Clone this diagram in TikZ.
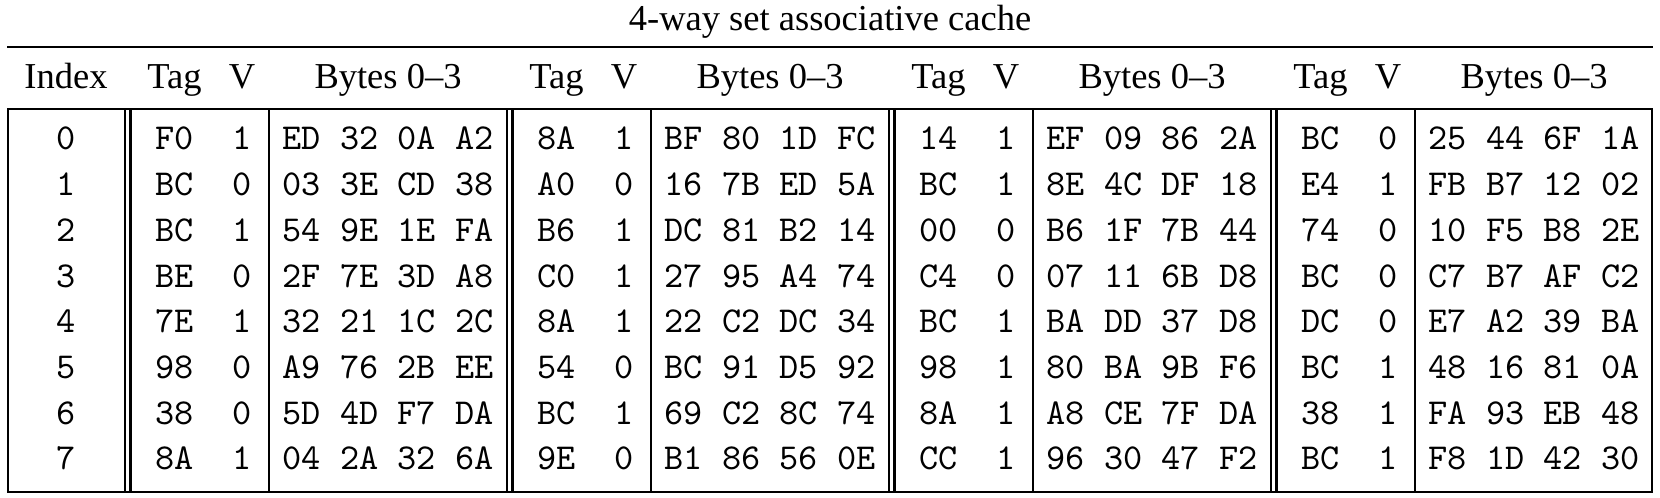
\documentclass[tikz,border=0pt]{standalone}
\usepackage{fontspec}
\setmainfont{Liberation Serif}
\usetikzlibrary{positioning}

\tikzset{
  head/.style={anchor=base, inner sep=0pt},
  cell/.style={anchor=base, inner sep=0pt, font=\ttfamily},
  rule/.style={line width=0.8pt},
}

\begin{document}
\begin{tikzpicture}[x=0.274pt, y=-0.274pt]
\useasboundingbox (0,0) rectangle (1660,498);

\node[head] (title) at (830,31) {4-way set associative cache};
\draw[line width=0.5pt] (7,47) -- (1653,47);

\node[head] (index_head) at (66,89) {Index};
\foreach \k/\b in {1/125,2/507,3/889,4/1271} {
  \node[head] (tag_head\k) at (\b+49.5,89) {Tag};
  \node[head] (v_head\k) at (\b+117,89) {V};
  \node[head] (bytes_head\k) at (\b+263,89) {Bytes 0--3};
}

\foreach \i/\ta/\va/\ba/\tb/\vb/\bb/\tc/\vc/\bc/\td/\vd/\bd in {
  0/F0/1/ED 32 0A A2/8A/1/BF 80 1D FC/14/1/EF 09 86 2A/BC/0/25 44 6F 1A,
  1/BC/0/03 3E CD 38/A0/0/16 7B ED 5A/BC/1/8E 4C DF 18/E4/1/FB B7 12 02,
  2/BC/1/54 9E 1E FA/B6/1/DC 81 B2 14/00/0/B6 1F 7B 44/74/0/10 F5 B8 2E,
  3/BE/0/2F 7E 3D A8/C0/1/27 95 A4 74/C4/0/07 11 6B D8/BC/0/C7 B7 AF C2,
  4/7E/1/32 21 1C 2C/8A/1/22 C2 DC 34/BC/1/BA DD 37 D8/DC/0/E7 A2 39 BA,
  5/98/0/A9 76 2B EE/54/0/BC 91 D5 92/98/1/80 BA 9B F6/BC/1/48 16 81 0A,
  6/38/0/5D 4D F7 DA/BC/1/69 C2 8C 74/8A/1/A8 CE 7F DA/38/1/FA 93 EB 48,
  7/8A/1/04 2A 32 6A/9E/0/B1 86 56 0E/CC/1/96 30 47 F2/BC/1/F8 1D 42 30} {
  \pgfmathsetmacro{\y}{150+45.71*\i}
  \node[cell] (idx\i) at (66,\y) {\i};
  % way 1
  \node[cell] (tag1_\i) at (174.5,\y) {\ta};
  \node[cell] (v1_\i) at (242,\y) {\va};
  \node[cell] (bytes1_\i) at (388,\y) {\ba};
  % way 2
  \node[cell] (tag2_\i) at (556.5,\y) {\tb};
  \node[cell] (v2_\i) at (624,\y) {\vb};
  \node[cell] (bytes2_\i) at (770,\y) {\bb};
  % way 3
  \node[cell] (tag3_\i) at (938.5,\y) {\tc};
  \node[cell] (v3_\i) at (1006,\y) {\vc};
  \node[cell] (bytes3_\i) at (1152,\y) {\bc};
  % way 4
  \node[cell] (tag4_\i) at (1320.5,\y) {\td};
  \node[cell] (v4_\i) at (1388,\y) {\vd};
  \node[cell] (bytes4_\i) at (1534,\y) {\bd};
}

% table frame
\draw[rule] (8,109) rectangle (1652,492);
\foreach \b in {125,507,889,1271} {
  \draw[rule] (\b,109) -- (\b,492);
  \draw[rule] (\b+5.5,109) -- (\b+5.5,492);
  \draw[rule] (\b+144,109) -- (\b+144,492);
}

\end{tikzpicture}
\end{document}
